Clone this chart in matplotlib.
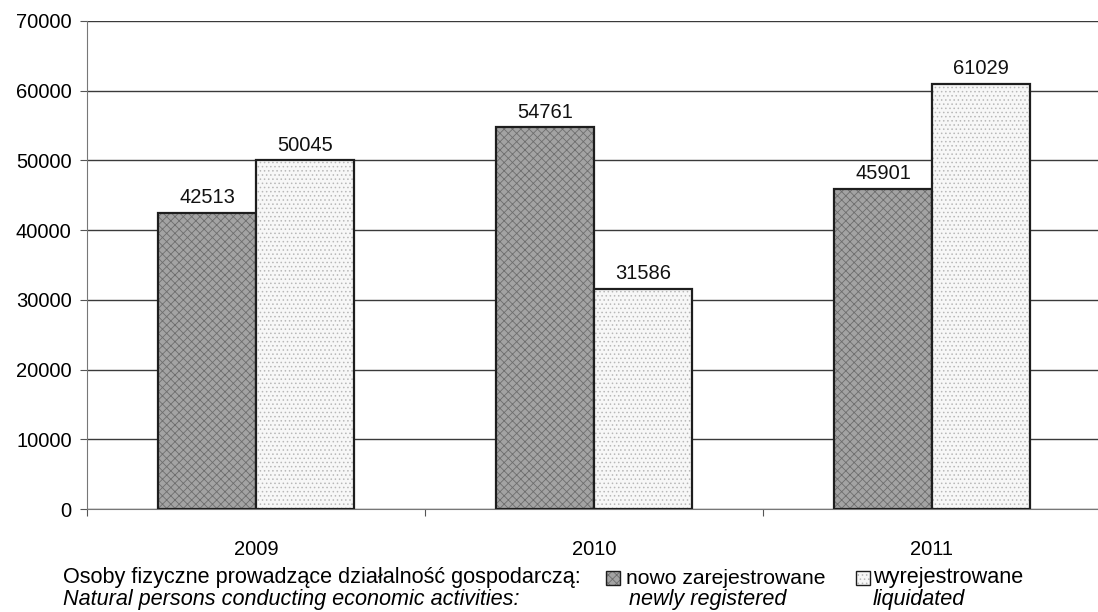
import matplotlib
matplotlib.use('Agg')
import matplotlib.pyplot as plt
import matplotlib.patches as mpatches
import numpy as np

plt.rcParams['font.family'] = ['Liberation Sans', 'DejaVu Sans']
plt.rcParams['hatch.linewidth'] = 0.6

years = ['2009', '2010', '2011']
registered = [42513, 54761, 45901]
liquidated = [50045, 31586, 61029]

DARK = '#a3a3a3'
DARK_HATCH = '#6e6e6e'
LIGHT = '#f7f7f7'
LIGHT_HATCH = '#b8b8b8'
EDGE = '#1e1e1e'
FS = 14.5

fig = plt.figure(figsize=(10.98, 6.12), dpi=100)
ax = fig.add_axes([0.0792, 0.1683, 0.9235, 0.7974])

x = np.arange(len(years)) + 0.5
w = 0.29
b1 = ax.bar(x - w / 2, registered, w, color=DARK, edgecolor=EDGE, linewidth=1.6,
            hatch='xxxx', zorder=3)
b2 = ax.bar(x + w / 2, liquidated, w, color=LIGHT, edgecolor=EDGE, linewidth=1.6,
            hatch='....', zorder=3)
for bar in b1:
    bar._hatch_color = matplotlib.colors.to_rgba(DARK_HATCH)
for bar in b2:
    bar._hatch_color = matplotlib.colors.to_rgba(LIGHT_HATCH)

for bars, vals in ((b1, registered), (b2, liquidated)):
    for bar, v in zip(bars, vals):
        ax.text(bar.get_x() + bar.get_width() / 2, v + 800, str(v),
                ha='center', va='bottom', fontsize=FS, color='#111111')

ax.set_xlim(0, 3)
ax.set_ylim(0, 70000)
ax.set_yticks(np.arange(0, 70001, 10000))
ax.set_yticklabels([str(v) for v in range(0, 70001, 10000)], fontsize=FS)
ax.set_xticks([0, 1, 2, 3])
ax.set_xticklabels([])
ax.set_xticks(x, minor=True)
ax.set_xticklabels(years, minor=True, fontsize=FS)
ax.tick_params(axis='x', which='minor', length=0, pad=22)
ax.tick_params(axis='x', which='major', length=5, color='#555555')
ax.tick_params(axis='y', length=5, color='#555555', pad=6)
ax.yaxis.grid(True, color='#3a3a3a', linewidth=1.0, zorder=0)
ax.set_axisbelow(True)
for s in ('top', 'right'):
    ax.spines[s].set_visible(False)
ax.spines['left'].set_color('#777777')
ax.spines['bottom'].set_color('#777777')

lfs = 15.6
fig.text(63 / 1098, 1 - 578 / 612, 'Osoby fizyczne prowadzące działalność gospodarczą:',
         fontsize=lfs, va='center', ha='left')
fig.text(63 / 1098, 1 - 600 / 612, 'Natural persons conducting economic activities:',
         fontsize=lfs, style='italic', va='center', ha='left')

sq = 14
for (px, fc, hc, hatch) in ((606, DARK, DARK_HATCH, 'xxxx'), (856, LIGHT, LIGHT_HATCH, '....')):
    r = mpatches.Rectangle((px / 1098, 1 - (578 + sq / 2) / 612), sq / 1098, sq / 612,
                           transform=fig.transFigure, facecolor=fc, edgecolor=EDGE,
                           linewidth=1.0, hatch=hatch)
    r._hatch_color = matplotlib.colors.to_rgba(hc)
    fig.add_artist(r)

fig.text(626 / 1098, 1 - 578 / 612, 'nowo zarejestrowane', fontsize=lfs - 0.4,
         va='center', ha='left')
fig.text(629 / 1098, 1 - 600 / 612, 'newly registered', fontsize=lfs,
         style='italic', va='center', ha='left')
fig.text(873 / 1098, 1 - 578 / 612, 'wyrejestrowane', fontsize=lfs,
         va='center', ha='left')
fig.text(873 / 1098, 1 - 600 / 612, 'liquidated', fontsize=lfs,
         style='italic', va='center', ha='left')

fig.savefig('out.png', dpi=100)
